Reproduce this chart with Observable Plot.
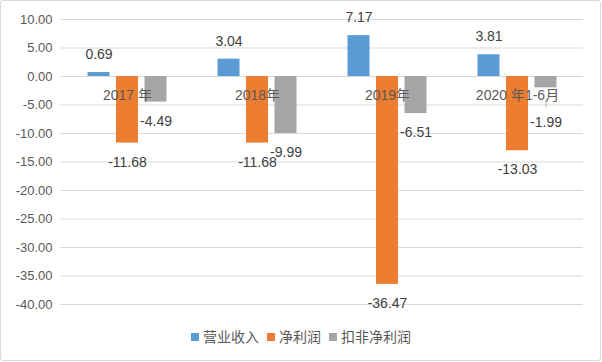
<!DOCTYPE html>
<html><head><meta charset="utf-8">
<script src="https://cdn.jsdelivr.net/npm/d3@7"></script>
<script src="https://cdn.jsdelivr.net/npm/@observablehq/plot@0.6"></script>
<style>
body{margin:0;background:#fff;}
#wrap{position:relative;width:602px;height:362px;overflow:hidden;background:#fff;font-family:"Liberation Sans","Noto Sans CJK SC",sans-serif;}
#frame{position:absolute;left:0;top:0;width:599px;height:359px;border:1px solid #d9d9d9;border-radius:3px;pointer-events:none;}
#chart{position:absolute;left:0;top:0;}
#legend{position:absolute;left:0;top:326px;width:602px;text-align:center;font-size:14px;color:#595959;line-height:20px;}
.item{display:inline-flex;align-items:center;margin:0 4px;}
.sw{display:inline-block;width:8px;height:8px;margin-right:4px;}
</style>
</head><body>
<div id="wrap"><div id="chart"></div><div id="legend"></div><div id="frame"></div></div>
<script>
const categories = ["2017 年", "2018年", "2019年", "2020 年1-6月"];
const seriesNames = ["营业收入", "净利润", "扣非净利润"];
const revenue = [0.69, 3.04, 7.17, 3.81];
const netProfit = [-11.68, -11.68, -36.47, -13.03];
const deductedNetProfit = [-4.49, -9.99, -6.51, -1.99];
const colors = ["#5B9BD5", "#ED7D31", "#A5A5A5"];
const yTicks = [10, 5, 0, -5, -10, -15, -20, -25, -30, -35, -40];

const seriesValues = [revenue, netProfit, deductedNetProfit];
const offsets = [-28.5, 0, 28.5];
const font = '"Liberation Sans","Noto Sans CJK SC",sans-serif';

const marks = [Plot.ruleY(yTicks, {stroke: "#d9d9d9", strokeWidth: 1})];
seriesValues.forEach((vals, s) => {
  const rows = categories.map((c, i) => ({category: c, value: vals[i]}));
  marks.push(Plot.barY(rows, {x: "category", y: "value", fill: colors[s], insetLeft: 54, insetRight: 54, dx: offsets[s]}));
});
marks.push(Plot.text(categories, {x: d => d, y: () => 0, text: d => d, dy: 19, fontSize: 14, fill: "#595959"}));
seriesValues.forEach((vals, s) => {
  const rows = categories.map((c, i) => ({category: c, value: vals[i]}));
  const pos = rows.filter(d => d.value >= 0);
  const neg = rows.filter(d => d.value < 0 && d.value <= -3);
  const small = rows.filter(d => d.value < 0 && d.value > -3);
  const common = {x: "category", y: "value", text: d => d.value.toFixed(2), dx: offsets[s], fontSize: 14, fill: "#404040"};
  marks.push(Plot.text(pos, {...common, dy: -18}));
  marks.push(Plot.text(neg, {...common, dy: 19}));
  marks.push(Plot.ruleX(small, {x: "category", y1: "value", y2: "value", dx: offsets[s], insetTop: 11, insetBottom: -20, stroke: "#a5a5a5", strokeWidth: 0.8}));
  marks.push(Plot.text(small, {...common, dy: 35}));
});

const chart = Plot.plot({
  width: 602, height: 318,
  marginLeft: 60, marginRight: 19, marginTop: 19, marginBottom: 14,
  x: {domain: categories, padding: 0, axis: null},
  y: {domain: [-40, 10], ticks: yTicks, tickFormat: d => d.toFixed(2), tickSize: 0, tickPadding: 8, label: null},
  style: {fontFamily: font, fontSize: "13px", color: "#595959", background: "transparent"},
  marks
});
document.getElementById("chart").appendChild(chart);

const legend = document.getElementById("legend");
seriesNames.forEach((n, i) => {
  const it = document.createElement("span");
  it.className = "item";
  it.innerHTML = `<span class="sw" style="background:${colors[i]}"></span>${n}`;
  legend.appendChild(it);
});
</script>
</body></html>
